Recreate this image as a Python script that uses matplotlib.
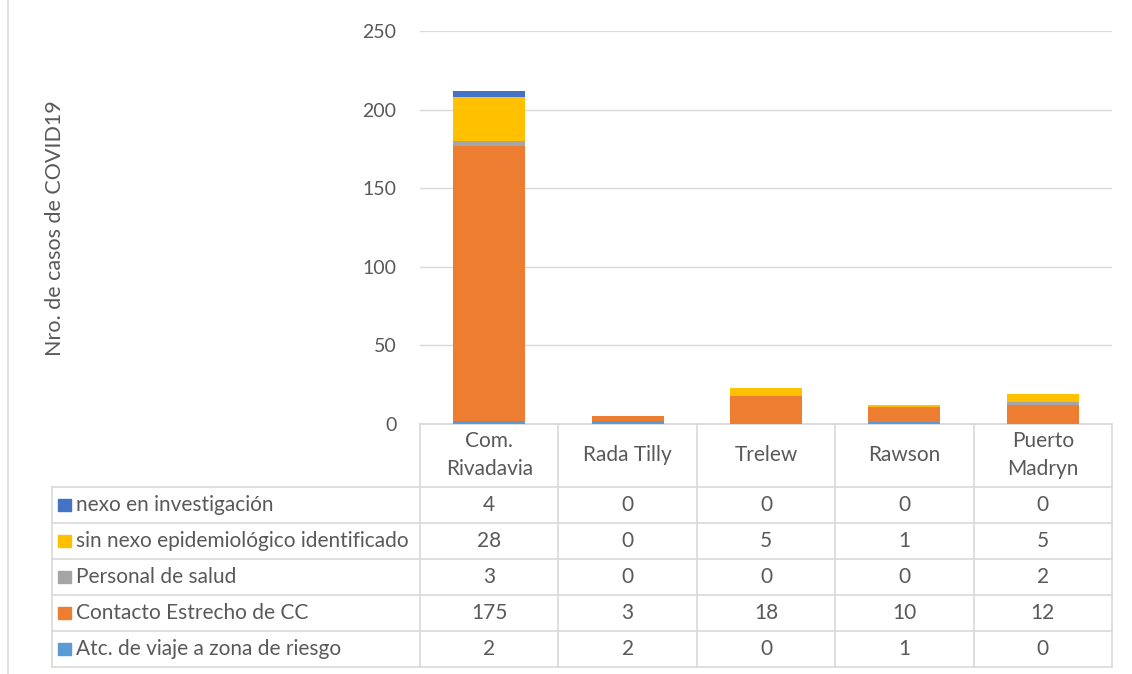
import matplotlib
matplotlib.use("Agg")
import matplotlib.pyplot as plt
from matplotlib.lines import Line2D
from matplotlib.patches import Rectangle
import matplotlib.transforms as mtransforms
import numpy as np

plt.rcParams['font.family'] = ['Lato', 'DejaVu Sans']

categories = ["Com.\nRivadavia", "Rada Tilly", "Trelew", "Rawson", "Puerto\nMadryn"]
series_names = ["Atc. de viaje a zona de riesgo", "Contacto Estrecho de CC",
                "Personal de salud", "sin nexo epidemiológico identificado",
                "nexo en investigación"]
atc_viaje = [2, 2, 0, 1, 0]
contacto_cc = [175, 3, 18, 10, 12]
personal_salud = [3, 0, 0, 0, 2]
sin_nexo = [28, 0, 5, 1, 5]
nexo_investigacion = [4, 0, 0, 0, 0]
series_values = [atc_viaje, contacto_cc, personal_salud, sin_nexo, nexo_investigacion]
colors = ["#5B9BD5", "#ED7D31", "#A5A5A5", "#FFC000", "#4472C4"]
yticks = [0, 50, 100, 150, 200, 250]

W, H = 1132, 674
fig = plt.figure(figsize=(W / 100, H / 100), dpi=100)
TXT = "#595959"
GRID = "#D9D9D9"
FS = 15

def fx(px):
    return px / W

def fy(py):
    return 1 - py / H

ax = fig.add_axes([fx(420), fy(424), fx(1112) - fx(420), fy(31) - fy(424)])
x = np.arange(len(categories))
bottom = np.zeros(len(categories))
for name, vals, c in zip(series_names, series_values, colors):
    ax.bar(x, vals, width=0.52, bottom=bottom, color=c, label=name, zorder=3)
    bottom += np.array(vals)

ax.set_xlim(-0.5, len(categories) - 0.5)
ax.set_ylim(0, 250)
ax.set_yticks(yticks)
ax.set_yticklabels([str(t) for t in yticks], color=TXT, fontsize=14)
ax.tick_params(axis='y', length=0, pad=17)
ax.set_xticks([])
ax.grid(axis='y', color=GRID, linewidth=1.0, zorder=0)
for s in ['top', 'right', 'left']:
    ax.spines[s].set_visible(False)
ax.spines['bottom'].set_color(GRID)
ax.spines['bottom'].set_linewidth(1.3)

fig.text(fx(55), fy(228), "Nro. de casos de COVID19", rotation=90, color=TXT,
         fontsize=15.5, ha='center', va='center')

# Table
tr = mtransforms.blended_transform_factory(ax.transData, fig.transFigure)
row_edges = [424, 487, 523, 559, 595, 631, 667]
lw = 1.2
for k in range(len(categories) + 1):
    xb = k - 0.5
    fig.add_artist(Line2D([xb, xb], [fy(424), fy(667)], transform=tr, color=GRID, lw=lw))
fig.add_artist(Line2D([fx(52), fx(52)], [fy(487), fy(667)], color=GRID, lw=lw))
for ry in row_edges[1:]:
    fig.add_artist(Line2D([fx(52), fx(1112)], [fy(ry), fy(ry)], color=GRID, lw=lw))

for i, cat in enumerate(categories):
    fig.text(i, fy(455), cat, transform=tr, ha='center', va='center', color=TXT,
             fontsize=FS, linespacing=1.55)

order = list(range(len(series_names)))[::-1]
for r, si in enumerate(order):
    yc = (row_edges[r + 1] + row_edges[r + 2]) / 2
    fig.add_artist(Rectangle((fx(58), fy(yc + 6)), fx(13), fy(yc - 6) - fy(yc + 6),
                             color=colors[si], transform=fig.transFigure))
    fig.text(fx(76), fy(yc), series_names[si], ha='left', va='center', color=TXT,
             fontsize=FS)
    for i, v in enumerate(series_values[si]):
        fig.text(i, fy(yc), str(v), transform=tr, ha='center', va='center',
                 color=TXT, fontsize=FS)

fig.add_artist(Line2D([fx(8), fx(8)], [fy(0), fy(674)], color=GRID, lw=1.2))

fig.savefig("out.png", dpi=100)
